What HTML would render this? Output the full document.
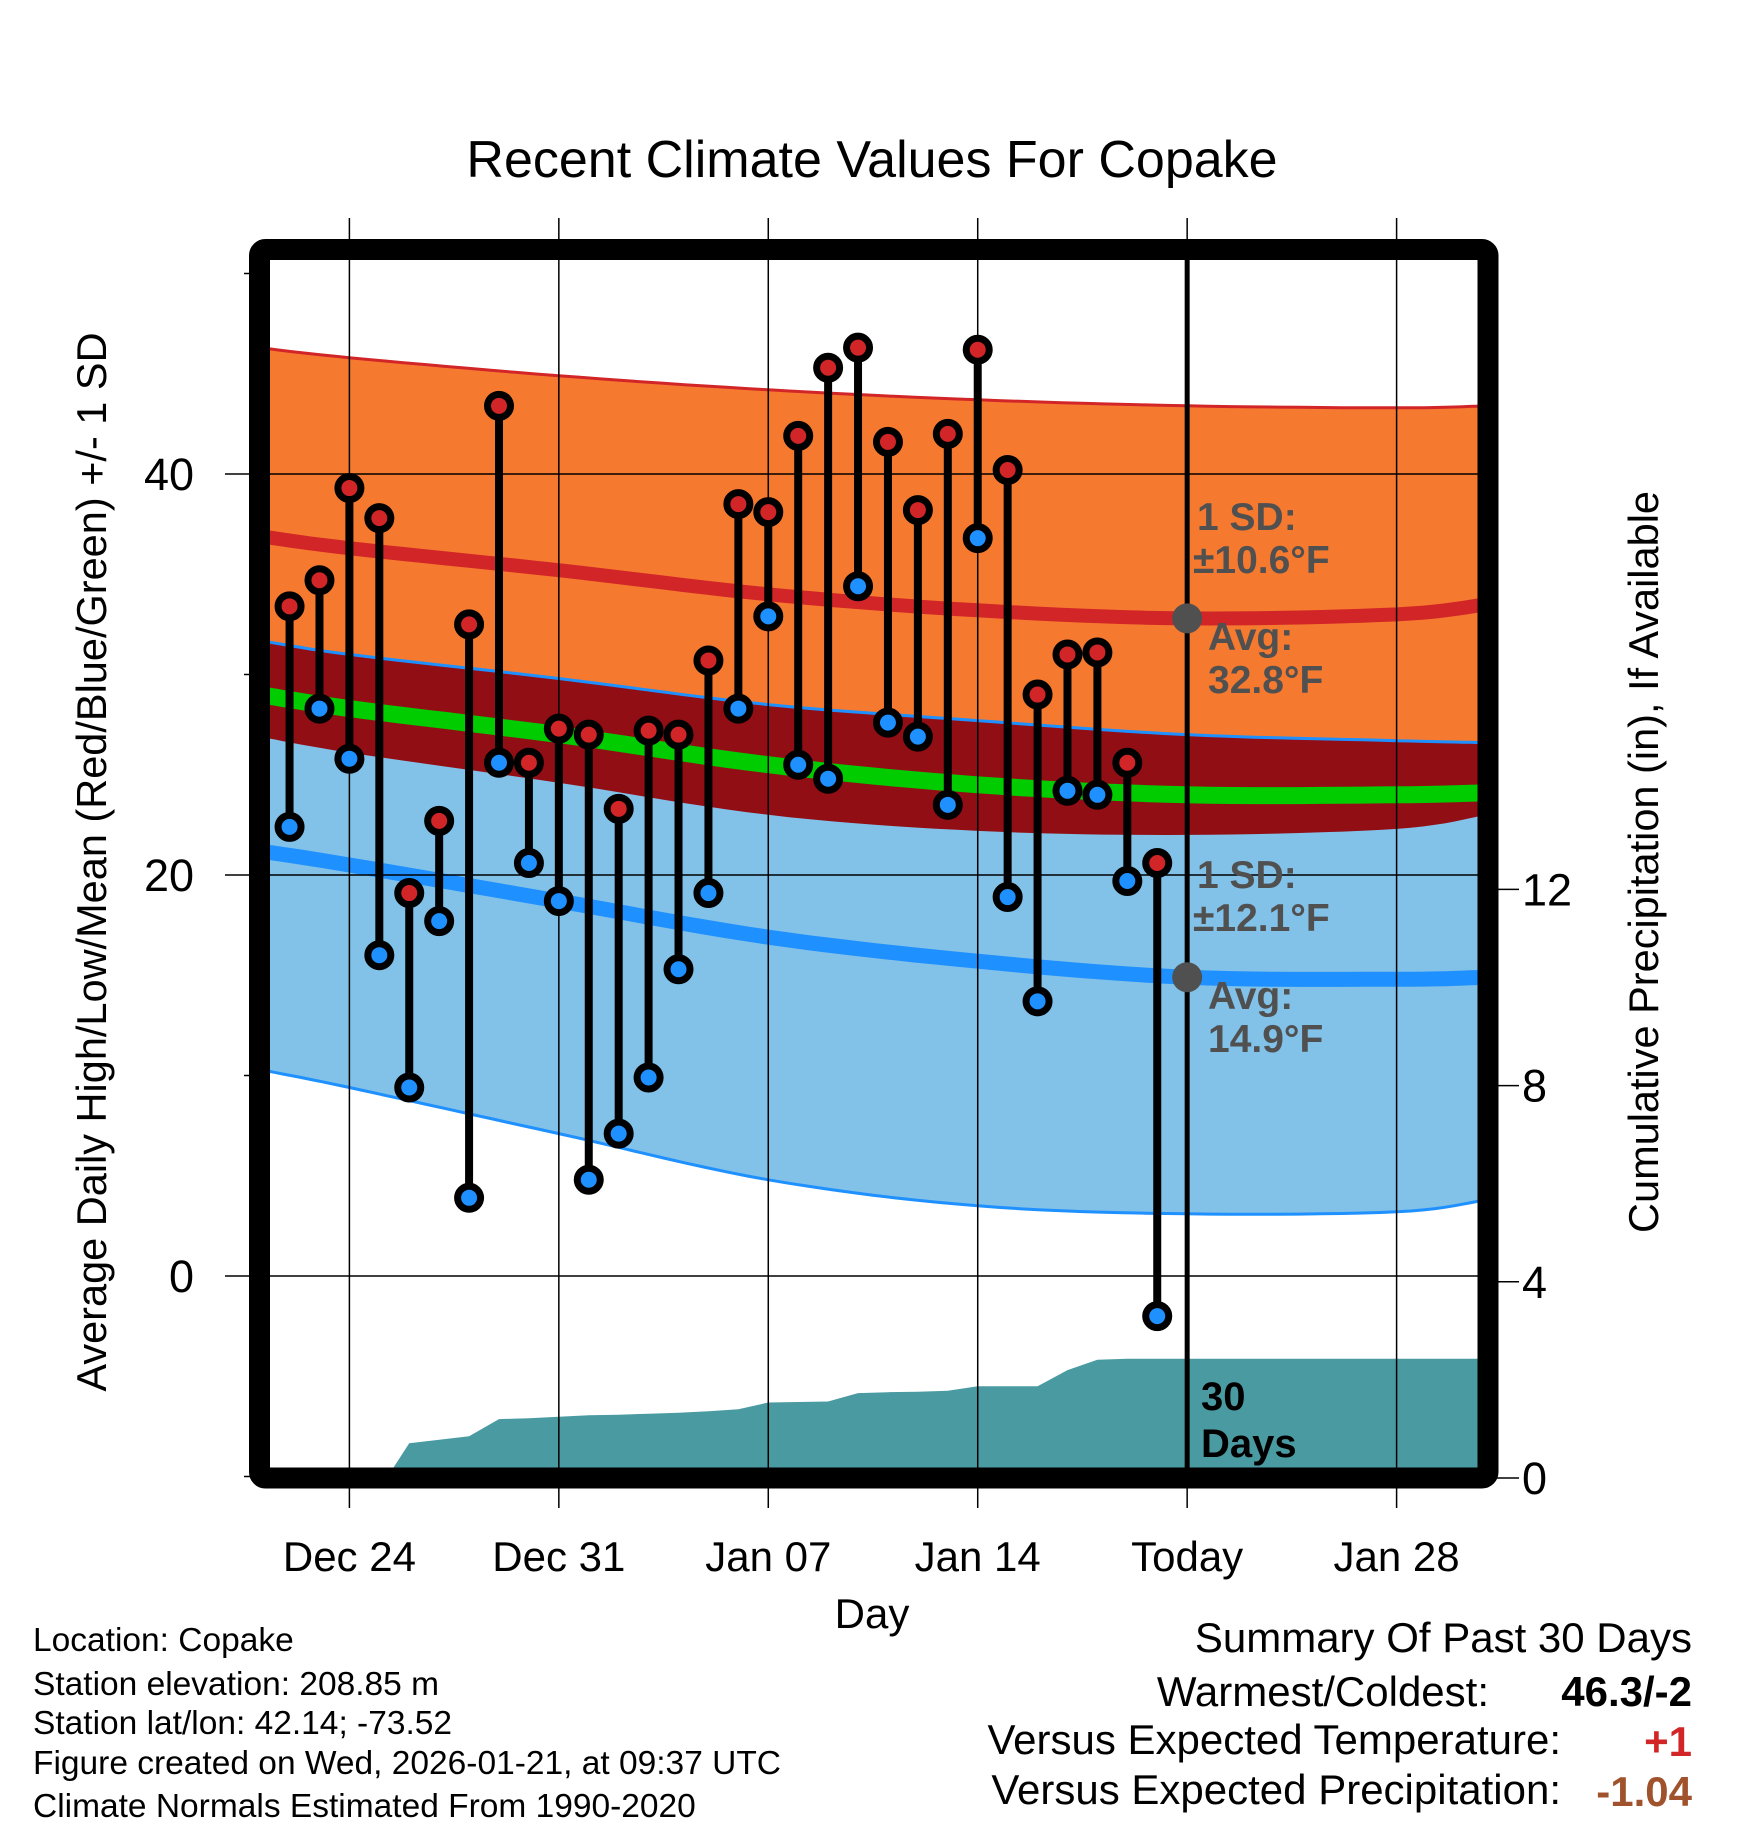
<!DOCTYPE html>
<html><head><meta charset="utf-8"><style>
html,body{margin:0;padding:0;background:#fff;}
svg{display:block;font-family:"Liberation Sans",sans-serif;}
</style></head><body>
<svg id="chart" width="1748" height="1828" viewBox="0 0 1748 1828" xmlns="http://www.w3.org/2000/svg">
<defs><clipPath id="plotclip"><rect x="270" y="260" width="1208" height="1208"/></clipPath></defs>
<rect width="1748" height="1828" fill="#fff"/>
<text x="872" y="177" font-size="52" text-anchor="middle">Recent Climate Values For Copake</text>
<g id="bands" clip-path="url(#plotclip)"></g>
<g id="grid"></g>
<g id="marks" clip-path="url(#plotclip)"></g>
<rect x="259.5" y="249.5" width="1228.5" height="1228.5" rx="6" fill="none" stroke="#000" stroke-width="21"/>
<g id="labels"></g>
<text transform="translate(106,862) rotate(-90)" font-size="41.5" text-anchor="middle">Average Daily High/Low/Mean (Red/Blue/Green) +/- 1 SD</text>
<text transform="translate(1658,862) rotate(-90)" font-size="41.5" text-anchor="middle">Cumulative Precipitation (in), If Available</text>
<text x="872" y="1628" font-size="42" text-anchor="middle">Day</text>
<g font-size="33.5">
<text x="33" y="1651">Location: Copake</text>
<text x="33" y="1695">Station elevation: 208.85 m</text>
<text x="33" y="1734">Station lat/lon: 42.14; -73.52</text>
<text x="33" y="1774">Figure created on Wed, 2026-01-21, at 09:37 UTC</text>
<text x="33" y="1817">Climate Normals Estimated From 1990-2020</text>
</g>
<g font-size="42" text-anchor="end">
<text x="1692" y="1652">Summary Of Past 30 Days</text>
<text x="1489" y="1706">Warmest/Coldest:</text>
<text x="1692" y="1706" font-weight="bold">46.3/-2</text>
<text x="1561" y="1754">Versus Expected Temperature:</text>
<text x="1692" y="1756" font-weight="bold" fill="#d22527">+1</text>
<text x="1561" y="1804">Versus Expected Precipitation:</text>
<text x="1692" y="1806" font-weight="bold" fill="#a0522d">-1.04</text>
</g>
</svg>
<script>
const bandDays=[-3,0,7,14,21,28,35,38];
const highSdTop=[46.3,45.8,44.9,44.2,43.7,43.4,43.3,43.4];
const highMean=[36.9,36.3,35.2,34.0,33.2,32.8,33.0,33.5];
const highSdBottom=[26.9,26.1,24.6,23.0,22.2,22.0,22.3,23.0];
const lowSdTop=[31.7,31.0,29.8,28.5,27.7,27.0,26.7,26.6];
const meanAvg=[29.0,28.3,27.0,25.5,24.5,24.0,24.0,24.1];
const lowMean=[21.2,20.5,18.7,16.9,15.7,14.9,14.8,14.9];
const lowSdBottom=[10.3,9.4,7.1,4.8,3.5,3.1,3.2,3.8];
const obsDays=[-2,-1,0,1,2,3,4,5,6,7,8,9,10,11,12,13,14,15,16,17,18,19,20,21,22,23,24,25,26,27];
const highs=[33.4,34.7,39.3,37.8,19.1,22.7,32.5,43.4,25.6,27.3,27.0,23.3,27.2,27.0,30.7,38.5,38.1,41.9,45.3,46.3,41.6,38.2,42.0,46.2,40.2,29.0,31.0,31.1,25.6,20.6];
const lows=[22.4,28.3,25.8,16.0,9.4,17.7,3.9,25.6,20.6,18.7,4.8,7.1,9.9,15.3,19.1,28.3,32.9,25.5,24.8,34.4,27.6,26.9,23.5,36.8,18.9,13.7,24.2,24.0,19.7,-2.0];
const precipDays=[-3,1.25,2,3,4,5,6,7,8,9,10,11,12,13,14,15,16,17,18,19,20,21,22,23,24,25,26,38];
const precip=[0,0,0.71,0.78,0.85,1.2,1.22,1.25,1.28,1.29,1.31,1.33,1.36,1.40,1.54,1.55,1.56,1.73,1.75,1.76,1.78,1.87,1.87,1.87,2.2,2.41,2.43,2.43];
const xTickDays=[0,7,14,21,28,35];
const xTickLabels=["Dec 24","Dec 31","Jan 07","Jan 14","Today","Jan 28"];
const yMajor=[0,20,40];
const yMinor=[-10,10,30,50];
const y2Ticks=[0,4,8,12];
const todayDay=28;

const NS="http://www.w3.org/2000/svg";
const X=d=>349.4+d*29.92;
const Y=v=>1276-v*20.05;
const YP=p=>1478-p*49.05;
function mk(parent,tag,attrs){const e=document.createElementNS(NS,tag);for(const k in attrs)e.setAttribute(k,attrs[k]);parent.appendChild(e);return e;}
const pts=(days,vals,fy)=>days.map((d,i)=>X(d).toFixed(1)+","+fy(vals[i]).toFixed(1));
// smooth sampled curve (Catmull-Rom) through band data points
function smooth(vals){
  const out=[];
  const n=bandDays.length;
  for(let i=0;i<n-1;i++){
    const p0=i>0?i-1:i,p3=i+2<n?i+2:i+1;
    for(let s=0;s<10;s++){
      const t=s/10,t2=t*t,t3=t2*t;
      const f=(a,b,c,d)=>0.5*((2*b)+(-a+c)*t+(2*a-5*b+4*c-d)*t2+(-a+3*b-3*c+d)*t3);
      const dx=f(bandDays[p0],bandDays[i],bandDays[i+1],bandDays[p3]);
      const v=f(vals[p0],vals[i],vals[i+1],vals[p3]);
      out.push(X(dx).toFixed(1)+","+Y(v).toFixed(1));
    }
  }
  out.push(X(bandDays[n-1]).toFixed(1)+","+Y(vals[n-1]).toFixed(1));
  return out;
}
const bands=document.getElementById('bands');
function area(top,bot,fill,name){
  const p=smooth(top).concat(smooth(bot).reverse());
  const e=mk(bands,'polygon',{points:p.join(' '),fill:fill});
  
  
}
function line(vals,color,w,name){
  const e=mk(bands,'polyline',{points:smooth(vals).join(' '),fill:'none',stroke:color,'stroke-width':w});
  
  
}
area(highSdTop,highSdBottom,'#f57a30','high-sd-band');
area(lowSdTop,lowSdBottom,'#82c1e8','low-sd-band');
area(lowSdTop,highSdBottom,'#920e15','overlap-band');
line(highSdTop,'#d22527',3,'high-sd-top-line');
line(lowSdTop,'#1e90ff',3,'low-sd-top-line');
line(lowSdBottom,'#1e90ff',3,'low-sd-bottom-line');
line(highMean,'#d22527',14,'high-mean-line');
line(meanAvg,'#00cc00',17,'mean-avg-line');
line(lowMean,'#1e90ff',15,'low-mean-line');
{
  const p=[X(precipDays[0]).toFixed(1)+","+YP(0)].concat(pts(precipDays,precip,YP)).concat([X(precipDays[precipDays.length-1]).toFixed(1)+","+YP(0)]);
  const e=mk(bands,'polygon',{points:p.join(' '),fill:'#4a9aa2'});
  
  
}
const grid=document.getElementById('grid');
const labels=document.getElementById('labels');
xTickDays.forEach((d,i)=>{
  const g=mk(grid,'line',{x1:X(d),x2:X(d),y1:218,y2:1508,stroke:'#000','stroke-width':1.5});
  
  
  const t=mk(labels,'text',{x:X(d),y:1571,'font-size':42,'text-anchor':'middle'});
  t.textContent=xTickLabels[i];
  
  
});
yMajor.forEach(v=>{
  const g=mk(grid,'line',{x1:225,x2:1478,y1:Y(v),y2:Y(v),stroke:'#000','stroke-width':1.5});
  
  
  const t=mk(labels,'text',{x:194,y:Y(v)+16,'font-size':45,'text-anchor':'end'});
  t.textContent=v;
  
  
});
yMinor.forEach(v=>{
  const g=mk(grid,'line',{x1:244,x2:260,y1:Y(v),y2:Y(v),stroke:'#000','stroke-width':1.5});
  
  
});
y2Ticks.forEach(v=>{
  const g=mk(grid,'line',{x1:1488,x2:1519,y1:YP(v),y2:YP(v),stroke:'#000','stroke-width':1.5});
  
  
  const t=mk(labels,'text',{x:1522,y:YP(v)+16,'font-size':45});
  t.textContent=v;
  
  
});
const marks=document.getElementById('marks');
{
  const e=mk(marks,'line',{x1:X(todayDay),x2:X(todayDay),y1:260,y2:1468,stroke:'#000','stroke-width':5});
  
  
}
[highMean[5],lowMean[5]].forEach(v=>{
  const c=mk(marks,'circle',{cx:X(todayDay),cy:Y(v),r:15,fill:'#505050'});
  
  
});
obsDays.forEach((d,i)=>{
  const l=mk(marks,'line',{x1:X(d),x2:X(d),y1:Y(highs[i]),y2:Y(lows[i]),stroke:'#000','stroke-width':8});
  
  
});
obsDays.forEach((d,i)=>{
  const a=mk(marks,'circle',{cx:X(d),cy:Y(highs[i]),r:11.5,fill:'#d22527',stroke:'#000','stroke-width':7});
  
  
  const b=mk(marks,'circle',{cx:X(d),cy:Y(lows[i]),r:11.5,fill:'#1e90ff',stroke:'#000','stroke-width':7});
  
  
});
const ann=[["1 SD:",1197,530],["±10.6°F",1193,573],["Avg:",1208,650],["32.8°F",1208,693],["1 SD:",1197,888],["±12.1°F",1193,931],["Avg:",1208,1009],["14.9°F",1208,1052]];
ann.forEach(a=>{
  const t=mk(marks,'text',{x:a[1],y:a[2],'font-size':39,'font-weight':'bold',fill:'#505050'});
  t.textContent=a[0];
  
  
});
[["30",1410],["Days",1457]].forEach(a=>{
  const t=mk(marks,'text',{x:1201,y:a[1],'font-size':40,'font-weight':'bold',fill:'#000'});
  t.textContent=a[0];
  
  
});
</script>
</body></html>
